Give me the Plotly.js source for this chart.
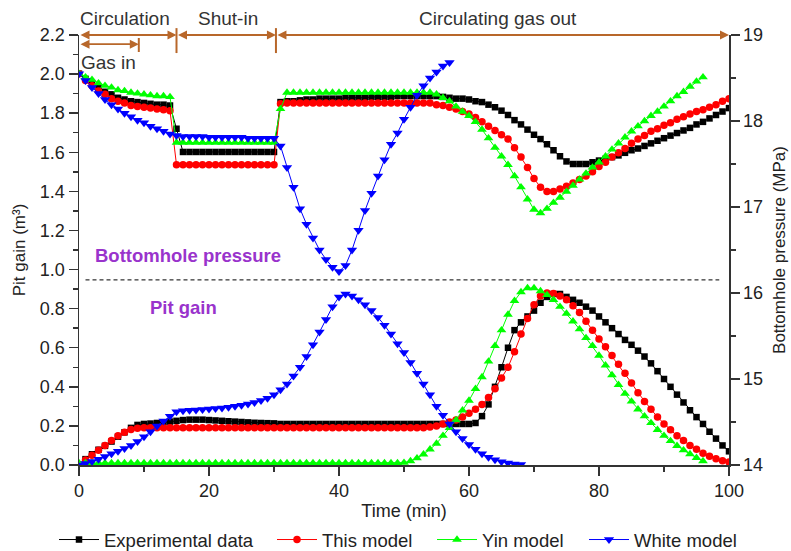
<!DOCTYPE html>
<html>
<head>
<meta charset="utf-8">
<script src="https://cdn.plot.ly/plotly-3.0.1.min.js"></script>
<style>html,body{margin:0;padding:0;background:#fff;}#chart{width:791px;height:551px;}</style>
</head>
<body>
<div id="chart"></div>
<script>
// Time (min), sampled once per minute
const timeMin = [0,1,2,3,4,5,6,7,8,9,10,11,12,13,14,15,16,17,18,19,20,21,22,23,24,25,26,27,28,29,30,31,32,33,34,35,36,37,38,39,40,41,42,43,44,45,46,47,48,49,50,51,52,53,54,55,56,57,58,59,60,61,62,63,64,65,66,67,68,69,70,71,72,73,74,75,76,77,78,79,80,81,82,83,84,85,86,87,88,89,90,91,92,93,94,95,96,97,98,99,100];

const seriesNames = ["Experimental data", "This model", "Yin model", "White model"];

// Bottomhole pressure (MPa)
const bhpExperimental = [18.55,18.49,18.43,18.39,18.34,18.31,18.27,18.25,18.23,18.22,
 18.21,18.20,18.19,18.19,18.18,17.91,17.64,17.64,17.64,17.64,
 17.64,17.64,17.64,17.64,17.64,17.64,17.64,17.64,17.64,17.64,
 17.64,18.22,18.23,18.23,18.24,18.25,18.25,18.26,18.26,18.26,
 18.26,18.27,18.27,18.27,18.27,18.28,18.28,18.28,18.28,18.29,
 18.29,18.29,18.29,18.29,18.29,18.29,18.28,18.27,18.26,18.26,
 18.25,18.23,18.22,18.19,18.16,18.12,18.07,18.01,17.96,17.90,
 17.84,17.79,17.73,17.66,17.59,17.53,17.50,17.50,17.50,17.52,
 17.54,17.56,17.58,17.60,17.63,17.66,17.68,17.71,17.74,17.77,
 17.80,17.83,17.86,17.89,17.92,17.96,17.99,18.03,18.07,18.11,
 18.15];
const bhpThisModel = [18.55,18.47,18.41,18.35,18.31,18.26,18.23,18.21,18.18,18.17,
 18.16,18.15,18.14,18.13,18.12,17.49,17.49,17.49,17.49,17.49,
 17.49,17.49,17.49,17.49,17.49,17.49,17.49,17.49,17.49,17.49,
 17.49,18.20,18.21,18.21,18.21,18.21,18.21,18.21,18.21,18.21,
 18.21,18.21,18.21,18.21,18.21,18.21,18.21,18.21,18.21,18.21,
 18.21,18.21,18.21,18.21,18.21,18.19,18.18,18.16,18.14,18.11,
 18.08,18.04,17.99,17.94,17.89,17.84,17.79,17.69,17.58,17.46,
 17.33,17.23,17.18,17.18,17.21,17.24,17.28,17.32,17.36,17.41,
 17.47,17.52,17.58,17.63,17.68,17.74,17.79,17.83,17.88,17.91,
 17.95,17.98,18.02,18.05,18.08,18.11,18.13,18.16,18.19,18.23,
 18.26];
const bhpYin = [18.55,18.51,18.48,18.44,18.41,18.39,18.36,18.35,18.33,18.32,
 18.31,18.30,18.29,18.29,18.28,17.75,17.75,17.75,17.75,17.75,
 17.75,17.75,17.75,17.75,17.75,17.75,17.75,17.75,17.75,17.75,
 17.75,18.14,18.33,18.33,18.33,18.33,18.33,18.33,18.33,18.33,
 18.33,18.33,18.33,18.33,18.33,18.33,18.33,18.33,18.33,18.33,
 18.33,18.33,18.33,18.33,18.33,18.31,18.27,18.23,18.17,18.11,
 18.06,17.99,17.90,17.80,17.69,17.59,17.49,17.36,17.23,17.09,
 16.97,16.93,16.98,17.05,17.11,17.18,17.25,17.32,17.39,17.46,
 17.52,17.59,17.67,17.74,17.81,17.88,17.94,18.00,18.06,18.11,
 18.17,18.23,18.29,18.34,18.40,18.46,18.51];
const bhpWhite = [18.55,18.47,18.39,18.32,18.25,18.19,18.14,18.09,18.05,18.01,
 17.98,17.94,17.91,17.88,17.85,17.83,17.82,17.82,17.82,17.82,
 17.81,17.81,17.81,17.81,17.81,17.81,17.80,17.80,17.80,17.80,
 17.80,17.71,17.46,17.23,16.98,16.80,16.64,16.50,16.39,16.30,
 16.25,16.32,16.50,16.73,16.96,17.16,17.36,17.55,17.73,17.86,
 18.02,18.16,18.30,18.41,18.50,18.57,18.64,18.68];

// Pit gain (m3)
const pitExperimental = [0,0.03,0.055,0.078,0.098,0.12,0.145,0.167,0.19,0.205,
 0.21,0.212,0.215,0.218,0.222,0.226,0.23,0.232,0.232,0.232,
 0.23,0.228,0.226,0.224,0.222,0.22,0.218,0.216,0.215,0.214,
 0.213,0.21,0.21,0.21,0.21,0.21,0.21,0.21,0.21,0.21,
 0.21,0.21,0.21,0.21,0.21,0.21,0.21,0.21,0.21,0.21,
 0.21,0.21,0.21,0.21,0.21,0.21,0.21,0.21,0.21,0.21,
 0.21,0.215,0.25,0.31,0.40,0.50,0.60,0.69,0.73,0.76,
 0.79,0.83,0.86,0.875,0.875,0.86,0.845,0.83,0.81,0.79,
 0.76,0.73,0.70,0.67,0.64,0.615,0.585,0.555,0.52,0.48,
 0.44,0.40,0.36,0.32,0.28,0.245,0.21,0.17,0.135,0.10,
 0.07];
const pitThisModel = [0,0.025,0.05,0.075,0.10,0.125,0.15,0.168,0.182,0.188,
 0.19,0.19,0.19,0.19,0.19,0.19,0.19,0.19,0.19,0.19,
 0.19,0.19,0.19,0.19,0.19,0.19,0.19,0.19,0.19,0.19,
 0.19,0.19,0.19,0.19,0.19,0.19,0.19,0.19,0.19,0.19,
 0.19,0.19,0.19,0.19,0.19,0.19,0.19,0.19,0.19,0.19,
 0.19,0.19,0.19,0.19,0.195,0.20,0.21,0.22,0.23,0.245,
 0.265,0.285,0.31,0.345,0.39,0.445,0.50,0.58,0.67,0.75,
 0.82,0.865,0.88,0.878,0.865,0.845,0.815,0.78,0.735,0.69,
 0.645,0.605,0.56,0.515,0.47,0.42,0.37,0.325,0.285,0.245,
 0.21,0.18,0.15,0.125,0.10,0.08,0.06,0.045,0.032,0.022,
 0.015];
const pitYin = [0.01,0.01,0.01,0.01,0.01,0.01,0.01,0.01,0.01,0.01,
 0.01,0.01,0.01,0.01,0.01,0.01,0.01,0.01,0.01,0.01,
 0.01,0.01,0.01,0.01,0.01,0.01,0.01,0.01,0.01,0.01,
 0.01,0.01,0.01,0.01,0.01,0.01,0.01,0.01,0.01,0.01,
 0.01,0.01,0.01,0.01,0.01,0.01,0.01,0.01,0.01,0.01,
 0.012,0.02,0.035,0.055,0.08,0.11,0.15,0.19,0.23,0.28,
 0.33,0.39,0.45,0.53,0.61,0.69,0.77,0.84,0.885,0.905,
 0.905,0.89,0.87,0.845,0.81,0.775,0.735,0.695,0.65,0.61,
 0.56,0.51,0.46,0.41,0.365,0.325,0.285,0.25,0.215,0.18,
 0.15,0.123,0.098,0.076,0.056,0.037,0.02];
const pitWhite = [0,0.008,0.018,0.03,0.043,0.057,0.07,0.085,0.10,0.12,
 0.145,0.17,0.20,0.225,0.25,0.273,0.277,0.28,0.282,0.284,
 0.286,0.289,0.292,0.296,0.30,0.306,0.312,0.32,0.33,0.342,
 0.36,0.385,0.415,0.455,0.50,0.555,0.615,0.68,0.745,0.81,
 0.86,0.875,0.865,0.845,0.82,0.79,0.755,0.715,0.67,0.62,
 0.575,0.525,0.47,0.415,0.36,0.30,0.255,0.21,0.17,0.135,
 0.105,0.08,0.058,0.04,0.027,0.017,0.01,0.005,0.002];

const styles = [
  {color: '#000000', symbol: 'square', size: 6.5},
  {color: '#FF0000', symbol: 'circle', size: 7.5},
  {color: '#00FF00', symbol: 'triangle-up', size: 8.5},
  {color: '#0000FF', symbol: 'triangle-down', size: 9}
];
const legendIds = ['legend', 'legend2', 'legend3', 'legend4'];

const bhpSeries = [bhpExperimental, bhpThisModel, bhpYin, bhpWhite];
const pitSeries = [pitExperimental, pitThisModel, pitYin, pitWhite];

const traces = [];
for (let i = 0; i < 4; i++) {
  const s = styles[i];
  traces.push({
    x: timeMin.slice(0, bhpSeries[i].length), y: bhpSeries[i], yaxis: 'y2',
    type: 'scatter', mode: 'lines+markers', name: seriesNames[i], legendgroup: 'g' + i, legend: legendIds[i],
    line: {color: s.color, width: 1}, marker: {color: s.color, symbol: s.symbol, size: s.size}
  });
  traces.push({
    x: timeMin.slice(0, pitSeries[i].length), y: pitSeries[i], yaxis: 'y',
    type: 'scatter', mode: 'lines+markers', name: seriesNames[i], legendgroup: 'g' + i, showlegend: false,
    legend: legendIds[i],
    line: {color: s.color, width: 1}, marker: {color: s.color, symbol: s.symbol, size: s.size}
  });
}

const FONT = 'Liberation Sans, Arial, sans-serif';
const BROWN = '#B8672A';
const PURPLE = '#9933CC';
const axisCommon = {
  showgrid: false, zeroline: false, showline: true, linecolor: '#333', linewidth: 1.5,
  ticks: 'outside', ticklen: 9, tickwidth: 1.5, tickcolor: '#333', automargin: false,
  tickfont: {family: FONT, size: 18, color: '#222'}
};

function arrow(x0, x1, y) {
  return {x: x1, y: y, ax: x0, ay: y, xref: 'x', yref: 'y', axref: 'x', ayref: 'y',
    text: '', showarrow: true, arrowside: 'end+start', arrowhead: 2, arrowsize: 1,
    arrowwidth: 1.8, arrowcolor: BROWN, standoff: 0, startstandoff: 0};
}
function label(x, y, yref, text, size, color) {
  return {x: x, y: y, xref: 'x', yref: yref, text: text, showarrow: false,
    xanchor: 'center', yanchor: 'middle', font: {family: FONT, size: size, color: color}};
}
function legendAt(px) {
  return {x: (px - 79) / 650, xref: 'paper', xanchor: 'left', y: 11 / 551, yref: 'container', yanchor: 'middle',
    orientation: 'h', font: {family: FONT, size: 18.5, color: '#222'}, bgcolor: 'rgba(0,0,0,0)',
    borderwidth: 0, itemwidth: 40};
}

const layout = {
  width: 791, height: 551,
  margin: {l: 79, r: 62, t: 35, b: 86},
  paper_bgcolor: '#fff', plot_bgcolor: '#fff',
  font: {family: FONT, color: '#222'},
  showlegend: true,
  legend: legendAt(54), legend2: legendAt(272), legend3: legendAt(432), legend4: legendAt(584),
  xaxis: Object.assign({}, axisCommon, {
    range: [0, 100], dtick: 20, tick0: 0,
    minor: {dtick: 10, ticks: 'outside', ticklen: 5, tickwidth: 1.5, tickcolor: '#333', showgrid: false},
    title: {text: 'Time (min)', font: {family: FONT, size: 18, color: '#222'}, standoff: 4}
  }),
  yaxis: Object.assign({}, axisCommon, {
    range: [0, 2.2], dtick: 0.2, tick0: 0, tickformat: '.1f',
    minor: {dtick: 0.1, ticks: 'outside', ticklen: 5, tickwidth: 1.5, tickcolor: '#333', showgrid: false},
    title: {text: 'Pit gain (m³)', font: {family: FONT, size: 17, color: '#222'}, standoff: 10}
  }),
  yaxis2: Object.assign({}, axisCommon, {
    overlaying: 'y', side: 'right', range: [14, 19], dtick: 1, tick0: 14,
    minor: {dtick: 0.5, ticks: 'outside', ticklen: 5, tickwidth: 1.5, tickcolor: '#333', showgrid: false},
    title: {text: 'Bottomhole pressure (MPa)', font: {family: FONT, size: 17, color: '#222'}, standoff: 11}
  }),
  shapes: [
    {type: 'line', xref: 'x', yref: 'y', x0: 1, x1: 98.5, y0: 0.947, y1: 0.947,
      line: {color: '#000', width: 1, dash: '4px,3px'}},
    {type: 'line', xref: 'x', yref: 'paper', x0: 15, x1: 15, y0: 0.958, y1: 1.016,
      line: {color: BROWN, width: 2}},
    {type: 'line', xref: 'x', yref: 'paper', x0: 30.3, x1: 30.3, y0: 0.958, y1: 1.016,
      line: {color: BROWN, width: 2}},
    {type: 'line', xref: 'x', yref: 'paper', x0: 9.2, x1: 9.2, y0: 0.9605, y1: 0.993,
      line: {color: BROWN, width: 2}}
  ],
  annotations: [
    arrow(0, 15, 2.2), arrow(15, 30.3, 2.2), arrow(30.3, 100, 2.2), arrow(0, 9.2, 2.153),
    label(7.1, 1.0395, 'paper', 'Circulation', 19, '#333'),
    label(22.9, 1.0395, 'paper', 'Shut-in', 19, '#333'),
    label(64.5, 1.0395, 'paper', 'Circulating gas out', 19, '#333'),
    label(4.5, 2.06, 'y', 'Gas in', 19, '#333'),
    label(16.8, 1.074, 'y', '<b>Bottomhole pressure</b>', 18.5, PURPLE),
    label(16.0, 0.808, 'y', '<b>Pit gain</b>', 18.5, PURPLE)
  ]
};

Plotly.newPlot('chart', traces, layout, {staticPlot: true, displayModeBar: false});
</script>
</body>
</html>
